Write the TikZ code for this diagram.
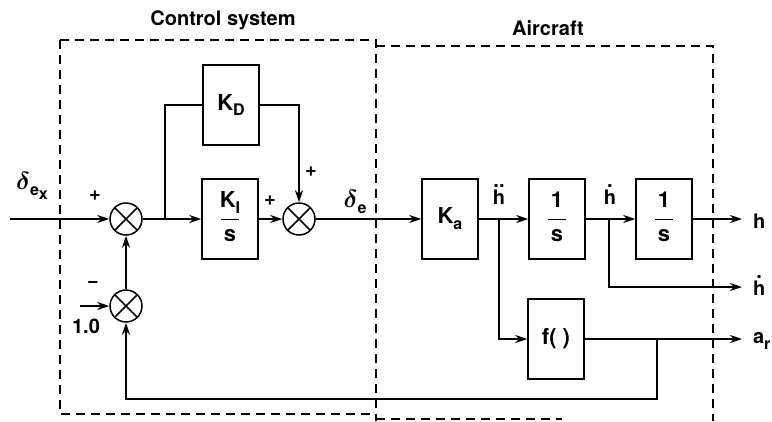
\documentclass[tikz,border=0pt]{standalone}
\usepackage{fontspec}
\setmainfont{TeX Gyre Heros}
\usepackage{amsmath,amssymb}
\usepackage{bm}
\usetikzlibrary{arrows.meta}

\newcommand{\lbl}{\fontsize{20}{24}\selectfont\bfseries}
\newcommand{\lowsub}[1]{\raisebox{-0.5ex}{\fontsize{16}{16}\selectfont #1}}
\newcommand{\ovr}[2]{\begin{tabular}{@{}c@{}}#1\\[-13pt]\rule{18pt}{1.6pt}\\[-5pt]#2\end{tabular}}
\newcommand{\bigdelta}{{\fontsize{28}{28}\selectfont$\bm{\delta}$}}
\newcommand{\dotover}[2]{\ooalign{#2\cr\hidewidth\raisebox{0.82em}{#1}\hidewidth\cr}}

\begin{document}
\begin{tikzpicture}[x=1pt,y=-1pt,line width=1.5pt,font=\lbl,
  blk/.style={draw, minimum width=56pt, minimum height=80pt, inner sep=0pt, font=\fontsize{22}{26}\selectfont\bfseries},
  sumj/.style={draw, circle, minimum size=32pt, inner sep=0pt, path picture={
    \draw (path picture bounding box.north west) -- (path picture bounding box.south east)
          (path picture bounding box.north east) -- (path picture bounding box.south west);}},
  sig/.style={-{Stealth[length=12pt,width=8pt]}},
  frame/.style={line width=1.3pt, dash pattern=on 9pt off 6pt}]
\useasboundingbox (0,0) rectangle (772,421);

% Titles of the two parts
\node (ttlc) at (223,20) {Control system};
\node (ttla) at (548,28) {Aircraft};

% Dashed frames
\draw[frame] (60,40) -- (376,40) -- (376,421);
\draw[frame] (60,40) -- (60,414) -- (376,414);
\draw[frame] (376,46) -- (713,46) -- (713,421);
\draw[frame] (376,419) -- (562,419);

% Summing junctions
\node[sumj] (s1) at (126,219) {};
\node[sumj] (s2) at (126,306) {};
\node[sumj] (s3) at (299,219) {};

% Blocks
\node[blk] (kd) at (231,105) {K\lowsub{D}};
\node[blk] (ki) at (230,219) {\ovr{K\lowsub{I}}{s}};
\node[blk] (ka) at (450,219) {K\lowsub{a}};
\node[blk] (int1) at (557,219) {\ovr{1}{s}};
\node[blk] (int2) at (664,219) {\ovr{1}{s}};
\node[blk] (fn) at (556,339) {f( )};

% Branch points and free ends
\coordinate (in) at (10,219);
\coordinate (one) at (80,306);
\coordinate (b1) at (165,219);
\coordinate (b2) at (499,219);
\coordinate (b3) at (609,219);
\coordinate (b4) at (657,339);
\coordinate (fbk) at (126,399);
\coordinate (hout) at (742,219);
\coordinate (hdout) at (742,287);
\coordinate (arout) at (742,339);

% Control system signals
\draw[sig] (in) -- (s1.west);
\draw[sig] (one) -- (s2.west);
\draw[sig] (s2.north) -- (s1.south);
\draw[sig] (s1.east) -- (ki.west);
\draw (b1) |- (kd.west);
\draw[sig] (kd.east) -| (s3.north);
\draw[sig] (ki.east) -- (s3.west);
\draw[sig] (s3.east) -- (ka.west);

% Aircraft signals
\draw[sig] (ka.east) -- (int1.west);
\draw[sig] (int1.east) -- (int2.west);
\draw[sig] (int2.east) -- (hout);
\draw[sig] (b2) |- (fn.west);
\draw[sig] (b3) |- (hdout);
\draw[sig] (fn.east) -- (arout);

% Feedback of a_r
\draw[sig] (b4) -- (b4 |- fbk) -- (fbk) -- (s2.south);

% Signs and signal names
\node (dex) at (32,186) {\bigdelta\lowsub{e\lowsub{x}}};
\node (p1) at (95,196) {+};
\node (m2) at (93,284) {\textminus};
\node (v1) at (86,326) {1.0};
\node (p3a) at (270,201) {+};
\node (p3b) at (311,172) {+};
\node (de) at (355,202) {\bigdelta\lowsub{e}};
\node (hdd) at (499,197) {\dotover{..}{h}};
\node (hd) at (610,197) {\dotover{.}{h}};
\node[anchor=west] (ho) at (749,221) {h};
\node[anchor=west] (hdo) at (749,288) {\dotover{.}{h}};
\node[anchor=west] (aro) at (749,341) {a\lowsub{r}};
\end{tikzpicture}
\end{document}
